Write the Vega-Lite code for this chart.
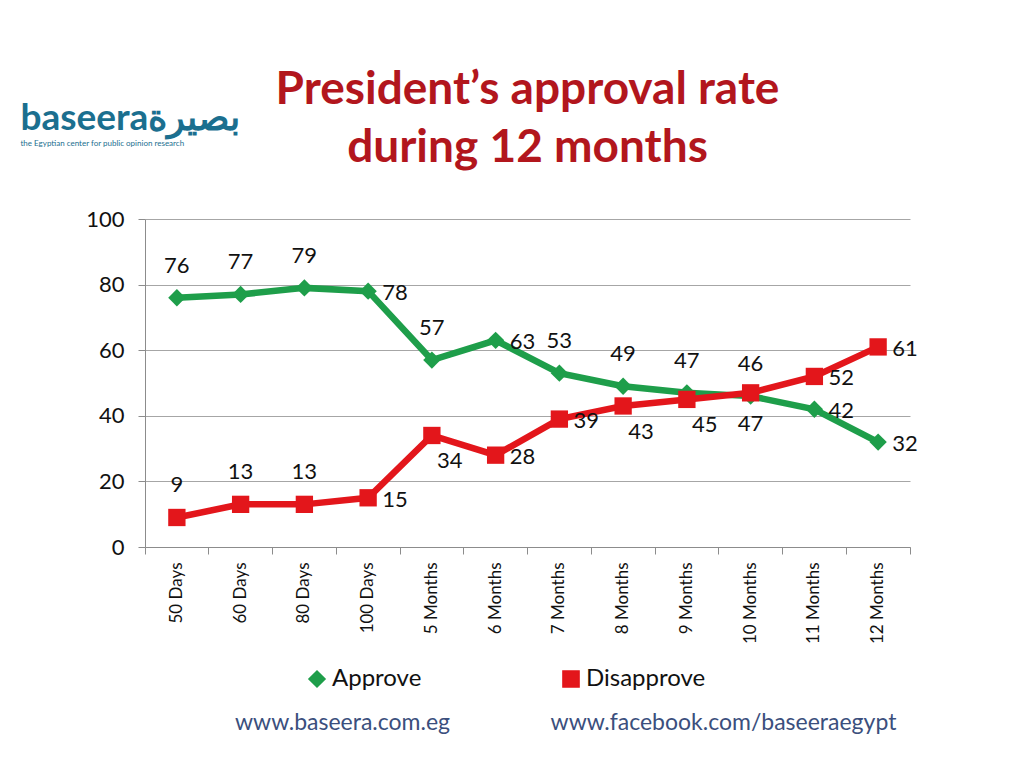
{
  "$schema": "https://vega.github.io/schema/vega-lite/v6.json",
  "width": 765,
  "height": 328,
  "autosize": {"type": "none"},
  "padding": {"left": 145, "top": 219, "right": 113, "bottom": 230},
  "background": "white",
  "config": {
    "view": {"stroke": null},
    "font": "Lato",
    "legend": {
      "orient": "none",
      "legendX": 160,
      "legendY": 448,
      "direction": "horizontal",
      "labelFontSize": 24,
      "labelFont": "Lato",
      "labelColor": "#111111",
      "symbolSize": 260,
      "columnPadding": 137,
      "labelOffset": 3,
      "title": null
    }
  },
  "title": {
    "text": ["President’s approval rate", "during 12 months"],
    "font": "Lato",
    "fontSize": 46,
    "fontWeight": "bold",
    "color": "#b2161d",
    "lineHeight": 58,
    "anchor": "middle",
    "frame": "group",
    "baseline": "alphabetic",
    "offset": -109
  },
  "data": {
    "values": [
      {"month": "50 Days", "series": "Approve", "value": 76},
      {"month": "60 Days", "series": "Approve", "value": 77},
      {"month": "80 Days", "series": "Approve", "value": 79},
      {"month": "100 Days", "series": "Approve", "value": 78},
      {"month": "5 Months", "series": "Approve", "value": 57},
      {"month": "6 Months", "series": "Approve", "value": 63},
      {"month": "7 Months", "series": "Approve", "value": 53},
      {"month": "8 Months", "series": "Approve", "value": 49},
      {"month": "9 Months", "series": "Approve", "value": 47},
      {"month": "10 Months", "series": "Approve", "value": 46},
      {"month": "11 Months", "series": "Approve", "value": 42},
      {"month": "12 Months", "series": "Approve", "value": 32},
      {"month": "50 Days", "series": "Disapprove", "value": 9},
      {"month": "60 Days", "series": "Disapprove", "value": 13},
      {"month": "80 Days", "series": "Disapprove", "value": 13},
      {"month": "100 Days", "series": "Disapprove", "value": 15},
      {"month": "5 Months", "series": "Disapprove", "value": 34},
      {"month": "6 Months", "series": "Disapprove", "value": 28},
      {"month": "7 Months", "series": "Disapprove", "value": 39},
      {"month": "8 Months", "series": "Disapprove", "value": 43},
      {"month": "9 Months", "series": "Disapprove", "value": 45},
      {"month": "10 Months", "series": "Disapprove", "value": 47},
      {"month": "11 Months", "series": "Disapprove", "value": 52},
      {"month": "12 Months", "series": "Disapprove", "value": 61}
    ]
  },
  "layer": [
    {
      "mark": {"type": "line", "strokeWidth": 6.5},
      "encoding": {
        "x": {
          "field": "month", "type": "nominal",
          "scale": {"type": "band", "domain": ["50 Days", "60 Days", "80 Days", "100 Days", "5 Months", "6 Months", "7 Months", "8 Months", "9 Months", "10 Months", "11 Months", "12 Months"], "paddingInner": 0, "paddingOuter": 0},
          "axis": {
            "orient": "bottom",
            "title": "www.baseera.com.eg",
            "labelAngle": -90,
            "labelFontSize": 17,
            "labelColor": "#111111",
            "labelPadding": 8,
            "bandPosition": 1,
            "tickExtra": true,
            "tickSize": 7,
            "tickColor": "#8c8c8c",
            "domainColor": "#8c8c8c",
            "grid": false,
            "titleX": 197,
            "titleY": 175,
            "titleFontSize": 23,
            "titleFontWeight": "normal",
            "titleColor": "#3b4f7d",
            "titleAlign": "center",
            "titleBaseline": "middle"
          }
        },
        "y": {
          "field": "value", "type": "quantitative",
          "scale": {"domain": [0, 100]},
          "axis": {
            "orient": "left",
            "values": [0, 20, 40, 60, 80, 100],
            "grid": true,
            "gridColor": "#a6a6a6",
            "domainColor": "#8c8c8c",
            "tickColor": "#8c8c8c",
            "tickSize": 7,
            "labelFontSize": 22,
            "labelColor": "#111111",
            "labelPadding": 14,
            "title": "baseeraبصيرة",
            "titleAngle": 0,
            "titleX": -125,
            "titleY": -90,
            "titleFontSize": 37,
            "titleFontWeight": "bold",
            "titleColor": "#1b6f8f",
            "titleAlign": "left",
            "titleBaseline": "alphabetic"
          }
        },
        "color": {
          "field": "series", "type": "nominal",
          "scale": {"domain": ["Approve", "Disapprove"], "range": ["#1e9e4a", "#e3161b"]}
        }
      }
    },
    {
      "mark": {"type": "point", "filled": true, "size": 300, "opacity": 1},
      "encoding": {
        "x": {
          "field": "month", "type": "nominal",
          "axis": {
            "orient": "bottom",
            "title": "www.facebook.com/baseeraegypt",
            "labels": false, "ticks": false, "domain": false, "grid": false,
            "titleX": 578,
            "titleY": 175,
            "titleFontSize": 23,
            "titleFontWeight": "normal",
            "titleColor": "#3b4f7d",
            "titleAlign": "center",
            "titleBaseline": "middle"
          }
        },
        "y": {
          "field": "value", "type": "quantitative",
          "axis": {
            "orient": "left",
            "title": "the Egyptian center for public opinion research",
            "labels": false, "ticks": false, "domain": false, "grid": false,
            "titleAngle": 0,
            "titleX": -125,
            "titleY": -74,
            "titleFontSize": 8,
            "titleFontWeight": "normal",
            "titleColor": "#1b6f8f",
            "titleAlign": "left",
            "titleBaseline": "alphabetic"
          }
        },
        "color": {"field": "series", "type": "nominal"},
        "shape": {
          "field": "series", "type": "nominal",
          "scale": {"domain": ["Approve", "Disapprove"], "range": ["diamond", "square"]}
        }
      }
    },
    {
      "transform": [{"filter": "(datum.series == 'Approve' && indexof(['100 Days','6 Months','11 Months','12 Months'], datum.month) < 0) || (datum.series == 'Disapprove' && indexof(['50 Days','60 Days','80 Days'], datum.month) >= 0)"}],
      "mark": {"type": "text", "fontSize": 22, "color": "#111111", "baseline": "middle", "align": "center", "dy": -32},
      "encoding": {
        "x": {"field": "month", "type": "nominal", "axis": null},
        "y": {"field": "value", "type": "quantitative", "axis": null},
        "text": {"field": "value", "type": "quantitative"}
      }
    },
    {
      "transform": [{"filter": "(datum.series == 'Approve' && indexof(['100 Days','6 Months','11 Months','12 Months'], datum.month) >= 0) || (datum.series == 'Disapprove' && indexof(['100 Days','6 Months','7 Months','11 Months','12 Months'], datum.month) >= 0)"}],
      "mark": {"type": "text", "fontSize": 22, "color": "#111111", "baseline": "middle", "align": "left", "dx": 14, "dy": 2},
      "encoding": {
        "x": {"field": "month", "type": "nominal", "axis": null},
        "y": {"field": "value", "type": "quantitative", "axis": null},
        "text": {"field": "value", "type": "quantitative"}
      }
    },
    {
      "transform": [{"filter": "datum.series == 'Disapprove' && indexof(['5 Months','8 Months','9 Months'], datum.month) >= 0"}],
      "mark": {"type": "text", "fontSize": 22, "color": "#111111", "baseline": "middle", "align": "center", "dx": 18, "dy": 26},
      "encoding": {
        "x": {"field": "month", "type": "nominal", "axis": null},
        "y": {"field": "value", "type": "quantitative", "axis": null},
        "text": {"field": "value", "type": "quantitative"}
      }
    },
    {
      "transform": [{"filter": "datum.series == 'Disapprove' && datum.month == '10 Months'"}],
      "mark": {"type": "text", "fontSize": 22, "color": "#111111", "baseline": "middle", "align": "center", "dy": 31},
      "encoding": {
        "x": {"field": "month", "type": "nominal", "axis": null},
        "y": {"field": "value", "type": "quantitative", "axis": null},
        "text": {"field": "value", "type": "quantitative"}
      }
    }
  ],
  "resolve": {"axis": {"x": "independent", "y": "independent"}}
}
